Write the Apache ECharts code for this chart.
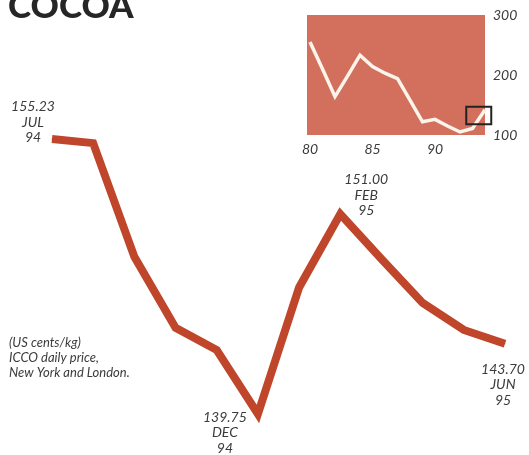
<!DOCTYPE html>
<html>
<head>
<meta charset="utf-8">
<title>Cocoa</title>
<script src="https://cdn.jsdelivr.net/npm/echarts@6/dist/echarts.min.js"></script>
<style>
  html, body { margin: 0; padding: 0; background: #ffffff; }
  #chart { width: 529px; height: 455px; }
</style>
</head>
<body>
<div id="chart"></div>
<script>
// Monthly ICCO daily price, July 1994 to June 1995 (US cents/kg)
const months = ['JUL', 'AUG', 'SEP', 'OCT', 'NOV', 'DEC', 'JAN', 'FEB', 'MAR', 'APR', 'MAY', 'JUN'];
const monthYears = ['94', '94', '94', '94', '94', '94', '95', '95', '95', '95', '95', '95'];
const prices = [155.23, 155.0, 148.6, 144.6, 143.35, 139.75, 146.87, 151.00, 148.47, 146.0, 144.48, 143.70];
// Months whose value is written next to the line
const labelledMonths = ['JUL', 'DEC', 'FEB', 'JUN'];

// Long-run annual price, 1980-1994
const insetYears = [80, 81, 82, 83, 84, 85, 86, 87, 88, 89, 90, 91, 92, 93, 94];
const insetPrices = [255, 210, 164, 198, 233, 214, 203, 194, 158, 122, 126, 115, 105, 111, 142];
const insetYearTicks = [80, 85, 90];
// Window of the recent period outlined on the small chart
const windowYears = [92.5, 94.5];
const windowPrices = [147, 118];

const noteLines = ['(US cents/kg)', 'ICCO daily price,', 'New York and London.'];

const textColor = '#3b3b3b';
const labelFont = 'Lato';

// where each value label sits relative to its point
const labelOffsets = {
  JUL: [-19, -17],
  DEC: [-33, 19],
  FEB: [26, -19],
  JUN: [-2, 41]
};

const lineData = prices.map(function (v, i) {
  const m = months[i];
  const item = { value: v };
  if (labelledMonths.indexOf(m) >= 0) {
    item.label = {
      show: true,
      position: 'inside',
      offset: labelOffsets[m],
      formatter: v.toFixed(2) + '\n' + m + '\n' + monthYears[i]
    };
  }
  return item;
});

const insetData = insetYears.map(function (y, i) { return [y, insetPrices[i]]; });

const chart = echarts.init(document.getElementById('chart'), null, { renderer: 'canvas' });

chart.setOption({
  animation: false,
  backgroundColor: '#ffffff',
  grid: [
    { left: 52, right: 24, top: 107.6, bottom: 10 },
    {
      left: 307, right: 44, top: 15, bottom: 320,
      show: true, backgroundColor: '#d3705d', borderWidth: 0
    }
  ],
  xAxis: [
    {
      gridIndex: 0, type: 'category', data: months, boundaryGap: false,
      show: false
    },
    {
      gridIndex: 1, type: 'value', min: 79.76, max: 94,
      axisLine: { show: false }, axisTick: { show: false }, splitLine: { show: false },
      axisLabel: {
        customValues: insetYearTicks,
        margin: 7,
        color: textColor, fontFamily: labelFont, fontStyle: 'italic', fontSize: 14
      }
    }
  ],
  yAxis: [
    { gridIndex: 0, type: 'value', min: 138, max: 157, show: false },
    {
      gridIndex: 1, type: 'value', min: 100, max: 300, interval: 100,
      position: 'right',
      axisLine: { show: false }, axisTick: { show: false }, splitLine: { show: false },
      axisLabel: {
        margin: 8,
        color: textColor, fontFamily: labelFont, fontStyle: 'italic', fontSize: 14
      }
    }
  ],
  series: [
    {
      type: 'line',
      xAxisIndex: 0, yAxisIndex: 0,
      data: lineData,
      symbol: 'circle', symbolSize: 1,
      itemStyle: { color: '#c0462b' },
      lineStyle: { color: '#c0462b', width: 8, join: 'miter', cap: 'butt' },
      label: {
        show: false,
        color: textColor, fontFamily: labelFont, fontStyle: 'italic',
        fontSize: 14, lineHeight: 15.5, align: 'center', verticalAlign: 'middle'
      },
      emphasis: { disabled: true },
      silent: true
    },
    {
      type: 'line',
      xAxisIndex: 1, yAxisIndex: 1,
      data: insetData,
      symbol: 'none',
      clip: false,
      lineStyle: { color: '#fbf4ea', width: 3.5, join: 'miter' },
      emphasis: { disabled: true },
      silent: true
    }
  ],
  graphic: [
    {
      id: 'title',
      type: 'text', left: 8, top: -11,
      style: {
        text: 'COCOA',
        font: '900 35px Lato',
        fill: '#262626'
      }
    },
    {
      id: 'note',
      type: 'text', left: 9, top: 335,
      style: {
        text: noteLines.join('\n'),
        font: 'italic 13px Lato',
        lineHeight: 15,
        fill: textColor
      }
    }
  ]
});

// Outline of the recent window, placed through the small chart's own scales
// (it is allowed to overhang the plot edge)
const p0 = chart.convertToPixel({ gridIndex: 1 }, [windowYears[0], windowPrices[0]]);
const p1 = chart.convertToPixel({ gridIndex: 1 }, [windowYears[1], windowPrices[1]]);
chart.setOption({
  graphic: [{
    id: 'window',
    type: 'rect',
    shape: {
      x: Math.min(p0[0], p1[0]), y: Math.min(p0[1], p1[1]),
      width: Math.abs(p1[0] - p0[0]), height: Math.abs(p1[1] - p0[1])
    },
    style: { fill: 'none', stroke: '#222222', lineWidth: 2 },
    z: 10,
    silent: true
  }]
});
</script>
</body>
</html>
